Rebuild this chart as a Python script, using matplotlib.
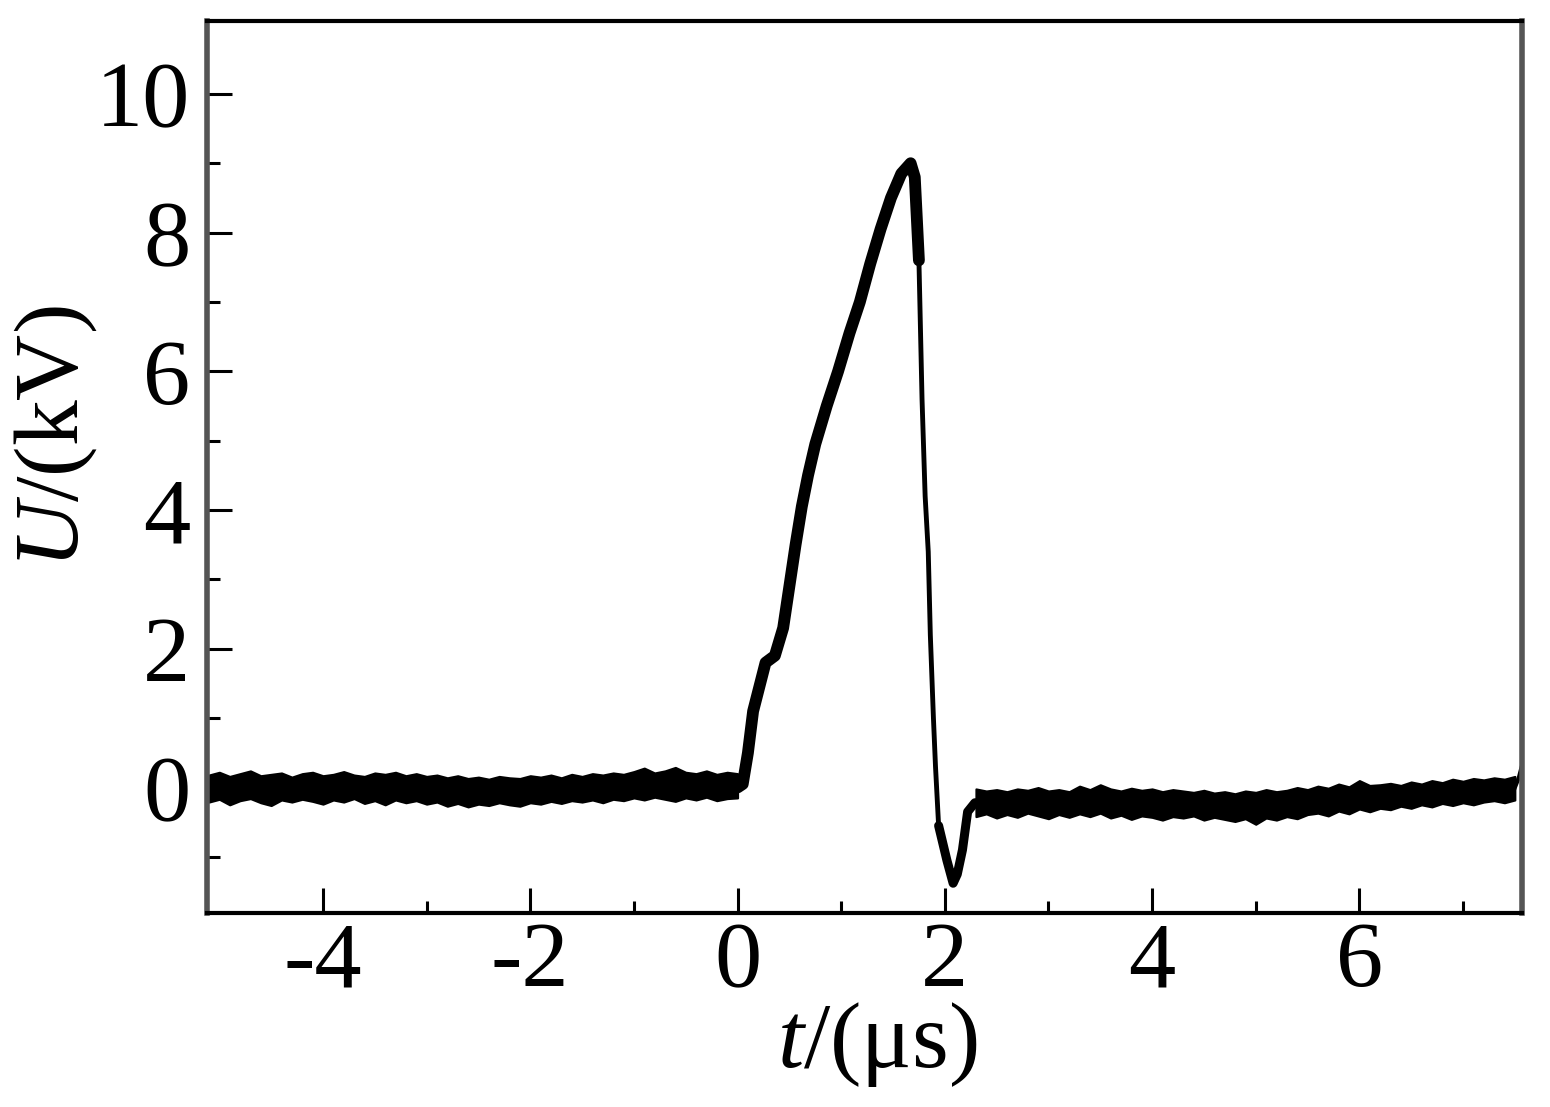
import numpy as np
import matplotlib
matplotlib.use("Agg")
import matplotlib.pyplot as plt

plt.rcParams['font.family'] = ['Liberation Serif', 'DejaVu Serif']
plt.rcParams['mathtext.fontset'] = 'custom'
plt.rcParams['mathtext.it'] = 'Liberation Serif:italic'
plt.rcParams['mathtext.rm'] = 'Liberation Serif'
plt.rcParams['axes.unicode_minus'] = False

# ---------------- data ----------------
# noisy baseline before the pulse: envelope of the trace, t = -5.1 ... 0.0 us (0.1 us grid)
t_pre = np.linspace(-5.1, 0.0, 52)
u_pre_upper = [0.18, 0.22, 0.16, 0.20, 0.24, 0.17, 0.19, 0.21, 0.15, 0.20,
               0.22, 0.17, 0.19, 0.23, 0.18, 0.16, 0.21, 0.19, 0.22, 0.17,
               0.20, 0.16, 0.18, 0.14, 0.17, 0.13, 0.15, 0.12, 0.16, 0.14,
               0.13, 0.17, 0.15, 0.18, 0.14, 0.19, 0.16, 0.20, 0.18, 0.21,
               0.19, 0.23, 0.28, 0.21, 0.24, 0.29, 0.22, 0.20, 0.24, 0.19,
               0.22, 0.20]
u_pre_lower = [-0.21, -0.17, -0.25, -0.19, -0.16, -0.22, -0.26, -0.18, -0.21, -0.17,
               -0.20, -0.24, -0.18, -0.21, -0.16, -0.23, -0.19, -0.25, -0.18, -0.22,
               -0.19, -0.24, -0.21, -0.27, -0.23, -0.28, -0.24, -0.26, -0.22, -0.25,
               -0.27, -0.22, -0.24, -0.20, -0.23, -0.19, -0.21, -0.18, -0.22, -0.17,
               -0.19, -0.15, -0.18, -0.14, -0.17, -0.20, -0.15, -0.18, -0.14, -0.19,
               -0.16, -0.15]

# rising front of the pulse
t_rise = [0.0, 0.05, 0.10, 0.15, 0.27, 0.36, 0.44, 0.50, 0.56, 0.62, 0.68, 0.75, 0.86, 0.97,
          1.08, 1.18, 1.28, 1.38, 1.48, 1.58, 1.67, 1.71, 1.75]
u_rise = [0.0, 0.05, 0.50, 1.10, 1.80, 1.90, 2.30, 2.90, 3.50, 4.05, 4.50, 4.95, 5.50, 6.00,
          6.55, 7.00, 7.55, 8.05, 8.50, 8.85, 9.00, 8.80, 7.60]

# fast fall
t_fall = [1.75, 1.78, 1.81, 1.84, 1.86, 1.89, 1.91, 1.94]
u_fall = [7.60, 5.60, 4.20, 3.40, 2.20, 1.00, 0.30, -0.55]

# undershoot and recovery
t_under = [1.94, 2.02, 2.08, 2.12, 2.17, 2.22, 2.29, 2.35]
u_under = [-0.55, -1.05, -1.38, -1.25, -0.90, -0.35, -0.22, -0.22]

# noisy baseline after the pulse: envelope, t = 2.3 ... 7.5 us (0.1 us grid)
t_post = np.linspace(2.3, 7.5, 53)
u_post_upper = [-0.02, -0.05, -0.03, -0.06, -0.02, -0.04, 0.00, -0.05, -0.03, -0.06,
                0.02, -0.03, 0.04, -0.02, -0.05, -0.01, -0.04, -0.02, -0.06, -0.03,
                -0.05, -0.07, -0.04, -0.08, -0.06, -0.09, -0.05, -0.07, -0.03, -0.06,
                -0.04, 0.00, -0.03, 0.02, -0.01, 0.05, 0.01, 0.10, 0.03, 0.04,
                0.06, 0.03, 0.08, 0.05, 0.10, 0.07, 0.12, 0.09, 0.13, 0.11,
                0.14, 0.12, 0.16]
u_post_lower = [-0.42, -0.38, -0.44, -0.39, -0.43, -0.37, -0.41, -0.45, -0.39, -0.43,
                -0.38, -0.42, -0.37, -0.44, -0.40, -0.46, -0.41, -0.43, -0.47, -0.42,
                -0.44, -0.41, -0.47, -0.43, -0.46, -0.49, -0.45, -0.53, -0.44, -0.47,
                -0.42, -0.45, -0.39, -0.37, -0.41, -0.34, -0.38, -0.31, -0.35, -0.30,
                -0.32, -0.27, -0.30, -0.25, -0.28, -0.23, -0.26, -0.22, -0.25, -0.21,
                -0.19, -0.22, -0.18]

# last spike at the right edge
t_end = [7.50, 7.54, 7.57]
u_end = [0.00, 0.15, 0.32]

x_major = [-4, -2, 0, 2, 4, 6]
x_minor = [-3, -1, 1, 3, 5, 7]
y_major = [0, 2, 4, 6, 8, 10]
y_minor = [-1, 1, 3, 5, 7, 9]

# ---------------- figure ----------------
fig = plt.figure(figsize=(15.5, 11.07), dpi=100)
ax = fig.add_axes([0.1335, 0.1752, 0.8485, 0.8058])

ax.fill_between(t_pre, u_pre_lower, u_pre_upper, color='black', lw=1.5)
ax.fill_between(t_post, u_post_lower, u_post_upper, color='black', lw=1.5)
ax.plot(t_rise, u_rise, color='black', lw=8.5, solid_joinstyle='round', solid_capstyle='round')
ax.plot(t_fall, u_fall, color='black', lw=3.5, solid_joinstyle='round', solid_capstyle='round')
ax.plot(t_under, u_under, color='black', lw=6.5, solid_joinstyle='round', solid_capstyle='round')
ax.plot(t_end, u_end, color='black', lw=3.0)

ax.set_xlim(-5.12, 7.57)
ax.set_ylim(-1.81, 11.05)

ax.set_xticks(x_major)
ax.set_xticklabels([str(v) for v in x_major])
ax.set_yticks(y_major)
ax.set_yticklabels([str(v) for v in y_major])
ax.set_xticks(x_minor, minor=True)
ax.set_yticks(y_minor, minor=True)

ax.tick_params(which='both', direction='in', top=False, right=False, width=2.2, colors='black')
ax.tick_params(which='major', length=18, labelsize=68)
ax.tick_params(which='minor', length=9)
ax.tick_params(axis='x', which='major', pad=6)
ax.tick_params(axis='y', which='major', pad=12)

for side in ['top', 'bottom']:
    ax.spines[side].set_linewidth(3.0)
    ax.spines[side].set_color('black')
for side in ['left', 'right']:
    ax.spines[side].set_linewidth(4.0)
    ax.spines[side].set_color('#555555')

ax.set_xlabel(r'$\mathit{t}$/(μs)', fontsize=68)
ax.set_ylabel(r'$\mathit{U}$/(kV)', fontsize=66)
ax.xaxis.set_label_coords(0.51, -0.098)
ax.yaxis.set_label_coords(-0.082, 0.534)

fig.savefig('out.png', dpi=100)
